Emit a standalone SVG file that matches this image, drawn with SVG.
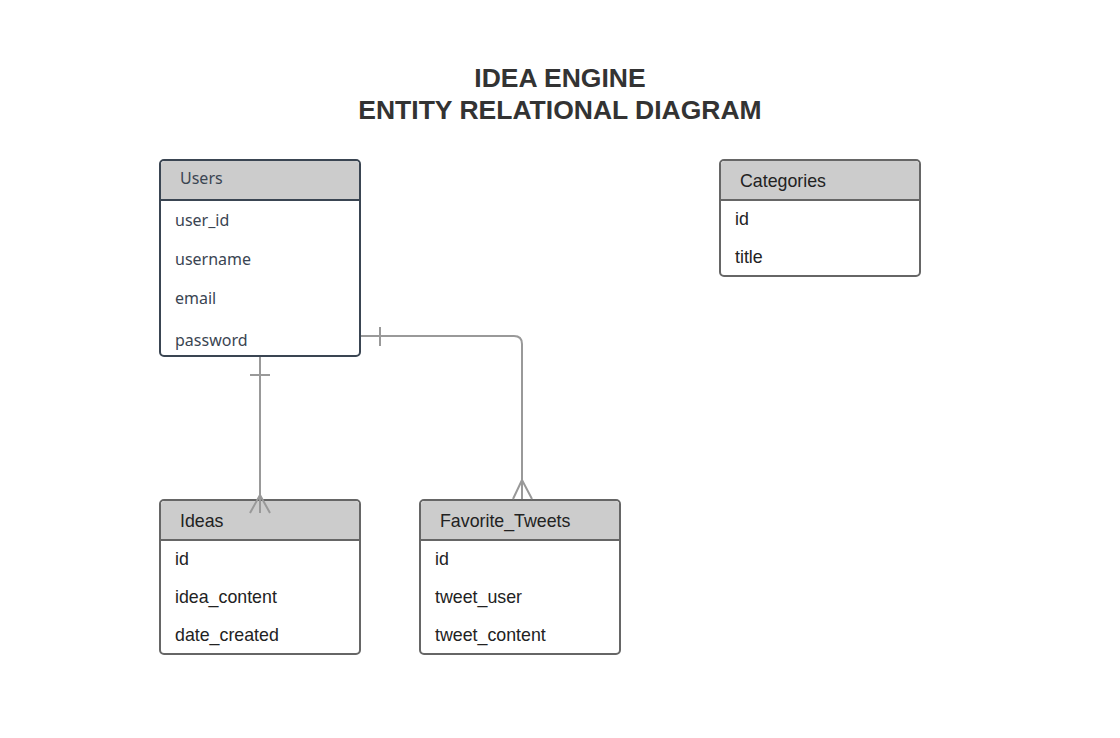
<svg xmlns="http://www.w3.org/2000/svg" width="1120" height="738" viewBox="0 0 1120 738">
<style>
.title{font-family:"Liberation Sans",Arial,sans-serif;font-weight:bold;font-size:26.5px;fill:#333;text-anchor:middle}
.box{fill:#fff;stroke:#666;stroke-width:2}
.hdr{fill:#ccc}
.sep{stroke:#666;stroke-width:2}
.t{font-family:"Liberation Sans",Arial,sans-serif;font-size:17.8px;fill:#222}
.u{font-family:"Noto Sans","Open Sans",sans-serif;font-size:16px;fill:#3a4552}
.ubox{fill:#fff;stroke:#3a4552;stroke-width:2}
.usep{stroke:#3a4552;stroke-width:2}
.c{fill:none;stroke:#999;stroke-width:2}
</style>
<rect width="1120" height="738" fill="#fff"/>
<text class="title" x="560" y="87">IDEA ENGINE</text>
<text class="title" x="560" y="119">ENTITY RELATIONAL DIAGRAM</text>

<g id="users">
<rect class="ubox" x="160" y="160" width="200" height="196" rx="4"/>
<path d="M161,196 V165 Q161,161 165,161 H355 Q359,161 359,165 V200 H161 Z" class="hdr"/>
<line class="usep" x1="160" y1="200" x2="360" y2="200"/>
<text class="u" x="180" y="184">Users</text>
<text class="u" x="175" y="226">user_id</text>
<text class="u" x="175" y="265">username</text>
<text class="u" x="175" y="304">email</text>
<text class="u" x="175" y="346">password</text>
</g>

<g id="categories">
<rect class="box" x="720" y="160" width="200" height="116" rx="4"/>
<path d="M721,200 V165 Q721,161 725,161 H915 Q919,161 919,165 V200 Z" class="hdr"/>
<line class="sep" x1="720" y1="200" x2="920" y2="200"/>
<text class="t" x="740" y="187">Categories</text>
<text class="t" x="735" y="225">id</text>
<text class="t" x="735" y="263">title</text>
</g>

<g id="ideas">
<rect class="box" x="160" y="500" width="200" height="154" rx="4"/>
<path d="M161,540 V505 Q161,501 165,501 H355 Q359,501 359,505 V540 Z" class="hdr"/>
<line class="sep" x1="160" y1="540" x2="360" y2="540"/>
<text class="t" x="180" y="527">Ideas</text>
<text class="t" x="175" y="565">id</text>
<text class="t" x="175" y="603">idea_content</text>
<text class="t" x="175" y="641">date_created</text>
</g>

<g id="favorite_tweets">
<rect class="box" x="420" y="500" width="200" height="154" rx="4"/>
<path d="M421,540 V505 Q421,501 425,501 H615 Q619,501 619,505 V540 Z" class="hdr"/>
<line class="sep" x1="420" y1="540" x2="620" y2="540"/>
<text class="t" x="440" y="527">Favorite_Tweets</text>
<text class="t" x="435" y="565">id</text>
<text class="t" x="435" y="603">tweet_user</text>
<text class="t" x="435" y="641">tweet_content</text>
</g>

<g id="connectors">
<path class="c" d="M260,357 V513"/>
<path class="c" d="M250,375 H270"/>
<path class="c" d="M250,513 L260,495 L270,513"/>
<path class="c" d="M361,336 H514 Q522,336 522,344 V499"/>
<path class="c" d="M380,327 V346"/>
<path class="c" d="M513,499 L522,480 L532,499"/>
</g>
</svg>
